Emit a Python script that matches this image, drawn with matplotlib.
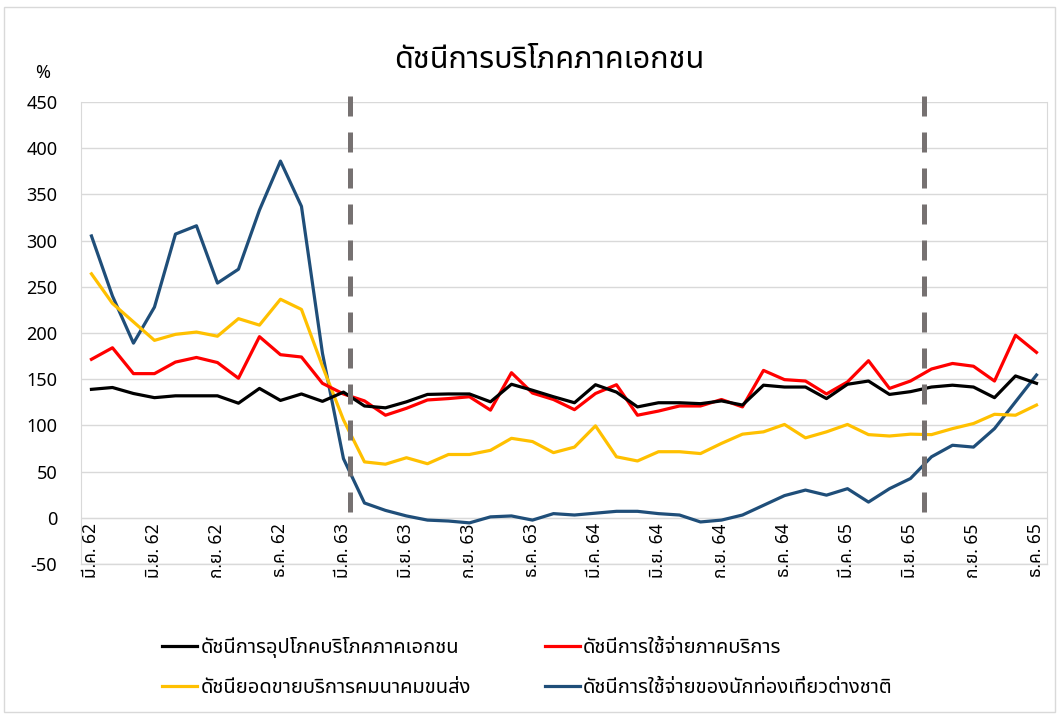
import numpy as np
import matplotlib
matplotlib.use("Agg")
import matplotlib.pyplot as plt
from matplotlib import font_manager
from matplotlib.ft2font import FT2Font
from matplotlib.lines import Line2D
from matplotlib.patches import Rectangle

# monthly index values, มี.ค. 62 .. ธ.ค. 65 (46 months)
consumption = [139, 141, 134.5, 130, 132, 132, 132, 124, 140, 127, 134, 126,
               136, 121, 119, 125.5, 133.5, 134, 134, 125.5, 144.5, 138, 131, 124.5,
               144, 136, 120, 124.5, 124.5, 123.5, 126.5, 122, 143.5, 141.5, 141.5, 129,
               144.5, 148, 133.5, 136.5, 141.5, 143.5, 141.5, 130, 153.5, 145.5]
services = [171.5, 184, 156, 156, 168.5, 173.5, 168, 151, 196, 176.5, 174, 145.5,
            134, 126.5, 111, 118.5, 127.5, 129, 131, 116.5, 157, 135, 128, 117,
            134.5, 144, 111, 115.5, 121, 121, 128, 120, 159.5, 149.5, 148, 134,
            147, 170, 140, 148, 161, 167, 164, 148, 197.5, 179]
transport = [264, 232, 212, 192, 198.5, 201, 196.5, 215.5, 208.5, 236.5, 225.5, 164,
             106, 60.5, 58, 65, 58.5, 68.5, 68.5, 73, 86, 82.5, 70.5, 76.5,
             99.5, 66, 61.5, 71.5, 71.5, 69.5, 80.5, 90.5, 93, 101, 86.5, 93,
             101, 90, 88.5, 90.5, 90, 96.5, 102, 112, 111, 122]
tourists = [305, 240, 189, 228, 307, 316, 254, 269, 333, 386, 337, 178,
            64, 16, 8, 2, -2.5, -3.5, -5.5, 1, 2, -2.5, 4.5, 3,
            5, 7, 7, 4.5, 3, -4.5, -2.5, 3, 13.5, 24, 30, 24.5,
            31.5, 17, 31.5, 42.5, 66, 78.5, 76.5, 96.5, 125.5, 154.5]

tick_labels = ["มี.ค. 62", "มิ.ย. 62", "ก.ย. 62", "ธ.ค. 62",
               "มี.ค. 63", "มิ.ย. 63", "ก.ย. 63", "ธ.ค. 63",
               "มี.ค. 64", "มิ.ย. 64", "ก.ย. 64", "ธ.ค. 64",
               "มี.ค. 65", "มิ.ย. 65", "ก.ย. 65", "ธ.ค. 65"]
series_names = ["ดัชนีการอุปโภคบริโภคภาคเอกชน", "ดัชนีการใช้จ่ายภาคบริการ",
                "ดัชนียอดขายบริการคมนาคมขนส่ง", "ดัชนีการใช้จ่ายของนักท่องเที่ยวต่างชาติ"]
title = "ดัชนีการบริโภคภาคเอกชน"
period_marks = [12.3, 39.65]  # dashed separators (month position)


def find_thai_font():
    # pick any installed font that has Thai glyphs
    preferred = ["Tahoma", "Leelawadee UI", "Noto Sans Thai", "Noto Sans Thai UI",
                 "Loma", "Garuda", "Sarabun", "Kinnari", "Norasi", "Waree", "Umpush"]
    found = {}
    for f in font_manager.fontManager.ttflist:
        try:
            cmap = FT2Font(f.fname).get_charmap()
        except Exception:
            continue
        if 0x0E14 in cmap and 0x0E35 in cmap:
            found.setdefault(f.name, f.fname)
    for name in preferred:
        if name in found:
            return name
    if found:
        return sorted(found)[0]
    return "DejaVu Sans"


thai_font = find_thai_font()
plt.rcParams["font.family"] = [thai_font, "DejaVu Sans"]

x = np.arange(len(consumption))

fig = plt.figure(figsize=(10.61, 7.16), dpi=100)
ax = fig.add_axes([0.0763, 0.2123, 0.9105, 0.6453])

grid_c = "#d9d9d9"
ax.plot(x, tourists, color="#1f4e79", lw=2.3, zorder=3)
ax.plot(x, transport, color="#ffc000", lw=2.3, zorder=4)
ax.plot(x, services, color="#ff0000", lw=2.3, zorder=5)
ax.plot(x, consumption, color="#000000", lw=2.3, zorder=6)

for xm in period_marks:
    ax.plot([xm, xm], [456, 0], color="#767171", lw=3.6, dashes=(4, 3.2),
            clip_on=False, zorder=7, solid_capstyle="butt", dash_capstyle="butt")

# category axis crosses at 0, labels hang below it
ax.spines["bottom"].set_position(("data", 0))
ax.set_xlim(-0.5, len(x) - 0.5)
ax.set_ylim(-50, 450)
ax.set_yticks(np.arange(-50, 451, 50))
ax.yaxis.grid(True, color=grid_c, lw=1)
ax.axhline(-50, color=grid_c, lw=1, clip_on=False, zorder=1)
ax.set_axisbelow(True)

ax.set_xticks(x[::3])
ax.set_xticklabels(tick_labels)
for s in ax.spines.values():
    s.set_color(grid_c)
ax.spines["top"].set_visible(False)
ax.tick_params(axis="x", length=0, pad=4, labelsize=12.5, labelrotation=90)
ax.tick_params(axis="y", length=0, pad=17, labelsize=13)

fig.text(0.04, 0.898, "%", fontsize=13, ha="center", va="center")
fig.text(0.518, 0.916, title, fontsize=22, ha="center", va="center")

handles = [Line2D([], [], color="#000000", lw=2.3),
           Line2D([], [], color="#ffc000", lw=2.3),
           Line2D([], [], color="#ff0000", lw=2.3),
           Line2D([], [], color="#1f4e79", lw=2.3)]
labels = [series_names[0], series_names[2], series_names[1], series_names[3]]
fig.legend(handles, labels, ncol=2, loc="center left", bbox_to_anchor=(0.136, 0.068),
           frameon=False, fontsize=14.5, handlelength=1.73, handletextpad=0.15,
           columnspacing=3.7, labelspacing=1.0)

fig.patches.append(Rectangle((0.004, 0.006), 0.99, 0.984, transform=fig.transFigure,
                             fill=False, edgecolor=grid_c, lw=1))

fig.savefig("out.png", dpi=100)
